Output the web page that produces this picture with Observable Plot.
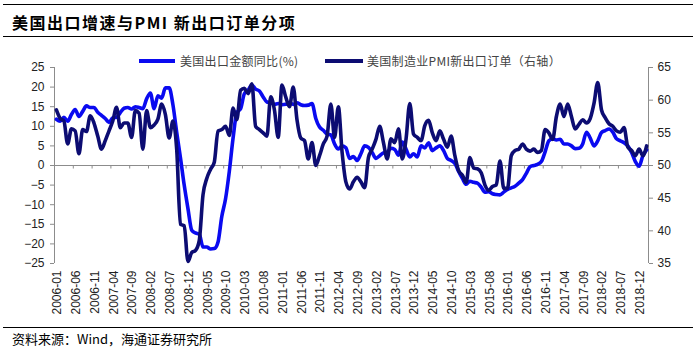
<!DOCTYPE html>
<html><head><meta charset="utf-8">
<script src="https://cdn.jsdelivr.net/npm/d3@7"></script>
<script src="https://cdn.jsdelivr.net/npm/@observablehq/plot@0.6"></script>
<style>
body{margin:0;background:#fff;}
#wrap{position:relative;width:700px;height:353px;overflow:hidden;background:#fff;font-family:"Noto Sans CJK SC",sans-serif;}
#chart{position:absolute;left:0;top:0;}
.hr{position:absolute;left:3px;width:690px;height:0;border-top:1.5px solid #000;}
#title{position:absolute;left:12px;top:12px;font-size:16px;font-weight:bold;letter-spacing:1.5px;color:#000;white-space:nowrap;line-height:20px;}
.leg{position:absolute;font-size:12px;color:#444;white-space:nowrap;line-height:14px;letter-spacing:0.3px;}
.sw{position:absolute;height:4px;}
#src{position:absolute;left:12px;top:331px;font-size:13px;color:#000;white-space:nowrap;line-height:16px;}
g[aria-label="x-labels"] text{letter-spacing:1px;}
</style></head>
<body>
<div id="wrap">
  <div id="chart"></div>
  <div class="hr" style="top:4px"></div>
  <div id="title">美国出口增速与PMI 新出口订单分项</div>
  <div class="hr" style="top:36px"></div>
  <div class="sw" style="left:139px;top:59px;width:36px;background:#0a0af0"></div>
  <div class="leg" style="left:180px;top:54px">美国出口金额同比(%)</div>
  <div class="sw" style="left:325px;top:59px;width:38px;background:#0c0c72"></div>
  <div class="leg" style="left:367px;top:54px">美国制造业PMI新出口订单（右轴）</div>
  <div class="hr" style="top:327px"></div>
  <div id="src">资料来源：Wind，海通证券研究所</div>
</div>
<script>
// series values, monthly from 2006-01
const exportYoY = [
 11.8, 11.3, 12.3, 11.3, 13.0, 14.3, 12.5, 13.8, 15.2, 14.8,
 14.8, 13.6, 12.8, 12.0, 11.0, 12.2, 12.3, 13.5, 14.6, 14.8,
 14.4, 15.0, 14.8, 14.5, 17.0, 18.5, 14.5, 17.8, 17.2, 19.8,
 19.8, 15.5, 8.5, 2.0, -5.0, -11.0, -16.5, -17.2, -17.5, -20.8,
 -20.8, -21.3, -21.2, -19.5, -13.0, -8.5, -1.5, 7.0, 13.5, 14.5,
 18.3, 19.2, 20.5, 19.5, 19.0, 17.5, 16.2, 16.0, 15.6, 15.8,
 15.5, 15.6, 16.0, 15.6, 16.0, 15.5, 15.3, 15.4, 15.8, 12.0,
 9.8, 9.0, 8.0, 7.8, 5.5, 4.2, 5.0, 4.5, 1.8, 2.3,
 1.3, 3.0, 5.0, 4.6, 3.3, 1.8, 2.5, 3.2, 3.4, 4.4,
 4.1, 2.6, 6.0, 4.2, 2.2, 3.0, 2.2, 5.0, 4.5, 5.8,
 3.8, 4.5, 5.0, 3.8, 1.8, 1.3, 0.5, -1.5, -3.3, -4.8,
 -4.0, -4.3, -4.5, -5.5, -6.8, -6.7, -7.2, -7.4, -7.5, -6.8,
 -6.1, -5.7, -5.3, -4.5, -3.6, -2.0, -0.3, 0.0, 0.3, 1.0,
 3.5, 6.3, 6.8, 6.5, 6.7, 5.5, 5.5, 5.0, 4.3, 4.4,
 5.5, 8.5, 7.0, 5.0, 6.3, 8.4, 8.9, 9.3, 8.5, 6.8,
 6.3, 5.8, 5.0, 3.3, 1.0, -0.2, 2.5, 4.0
];
const pmiExportOrders = [
 58.5, 57.2, 56.8, 53.3, 55.6, 55.3, 51.8, 55.5, 55.2, 57.6,
 56.5, 54.5, 52.5, 53.8, 55.3, 56.8, 58.9, 55.8, 56.5, 56.5,
 54.3, 58.4, 58.0, 52.5, 58.4, 55.8, 56.2, 57.1, 59.4, 57.8,
 54.2, 56.8, 52.5, 41.0, 40.8, 35.3, 36.7, 37.0, 38.5, 45.5,
 48.0, 49.4, 50.5, 55.3, 55.5, 56.0, 54.6, 58.8, 57.0, 61.5,
 61.8, 61.0, 62.5, 56.0, 55.5, 55.0, 54.5, 60.5, 58.5, 54.3,
 62.3, 60.5, 59.0, 62.0, 57.0, 54.2, 53.8, 51.0, 53.5, 50.0,
 51.5, 53.3, 54.5, 59.4, 54.3, 59.0, 52.0, 47.5, 46.4, 47.5,
 48.2, 47.5, 46.6, 51.2, 52.5, 54.0, 56.0, 53.5, 51.0, 54.1,
 53.5, 55.6, 51.0, 54.0, 59.5, 54.8, 54.3, 53.8, 56.1, 56.9,
 55.0, 53.8, 55.3, 54.0, 52.8, 54.5, 51.5, 49.2, 48.5, 47.4,
 51.2, 49.6, 49.5, 48.9, 47.0, 46.2, 46.8, 47.0, 50.7, 46.5,
 46.5, 51.5, 52.3, 52.5, 53.3, 52.5, 52.2, 52.5, 52.0, 52.3,
 55.5, 55.0, 54.0, 57.5, 59.4, 57.5, 59.4, 57.5, 55.6, 56.3,
 57.0, 56.5, 57.2, 59.5, 62.7, 58.5, 57.3, 56.4, 56.0, 55.3,
 55.1, 55.8, 52.8, 52.3, 51.5, 52.5, 51.5, 53.0
];
// tick labels
const xTickLabels = ['2006-01','2006-06','2006-11','2007-04','2007-09','2008-02','2008-07','2008-12','2009-05','2009-10','2010-03','2010-08','2011-01','2011-06','2011-11','2012-04','2012-09','2013-02','2013-07','2013-12','2014-05','2014-10','2015-03','2015-08','2016-01','2016-06','2016-11','2017-04','2017-09','2018-02','2018-07','2018-12'];
const leftTicks = [-25,-20,-15,-10,-5,0,5,10,15,20,25];
const rightTicks = [35,40,45,50,55,60,65];

// categories: months
const months = exportYoY.map((_, i) => {
  const y = 2006 + Math.floor(i / 12), mo = (i % 12) + 1;
  return y + '-' + String(mo).padStart(2, '0');
});
const table = months.map((m, i) => ({i, month: m, exp: exportYoY[i], pmi: pmiExportOrders[i]}));
// right axis (35..65) mapped onto the left scale (-25..25)
const toLeft = r => (r - 50) / 0.6;
const n = months.length;
const boundaries = d3.range(4.5, n - 1, 5);
const labelRows = xTickLabels.map(l => ({label: l, i: months.indexOf(l)}));

const font = "'Liberation Sans', Arial, sans-serif";
const chart = Plot.plot({
  width: 700, height: 353,
  marginTop: 67, marginBottom: 90, marginLeft: 54, marginRight: 52,
  style: {fontFamily: font, fontSize: "12px", background: "transparent", color: "#222"},
  x: {domain: [-0.5, n - 0.5], axis: null},
  y: {domain: [-25, 25], axis: null},
  marks: [
    Plot.ruleY([0], {stroke: "#8c8c8c", strokeWidth: 1}),
    Plot.ruleX(boundaries, {y1: 0, y2: -0.9, stroke: "#8c8c8c"}),
    Plot.ruleX([-0.5], {stroke: "#8c8c8c"}),
    Plot.ruleX([n - 0.5], {stroke: "#8c8c8c"}),
    Plot.axisY(leftTicks, {anchor: "left", label: null, tickSize: 4, tickPadding: 6, stroke: "#8c8c8c", fill: "#222", fontSize: 12}),
    Plot.axisY(rightTicks.map(toLeft), {anchor: "right", label: null, tickSize: 4, tickPadding: 5, stroke: "#8c8c8c", fill: "#222", fontSize: 12,
      tickFormat: d => String(Math.round(50 + 0.6 * d))}),
    Plot.text(labelRows, {x: "i", frameAnchor: "bottom", text: "label", rotate: -90, textAnchor: "end", lineAnchor: "middle",
      dy: 7, dx: 1, fontSize: 12, fill: "#222", ariaLabel: "x-labels"}),
    Plot.lineY(table, {x: "i", y: "exp", stroke: "#0a0af0", strokeWidth: 3.6, curve: "monotone-x", strokeLinejoin: "round"}),
    Plot.lineY(table, {x: "i", y: d => toLeft(d.pmi), stroke: "#0c0c72", strokeWidth: 3.6, curve: "monotone-x", strokeLinejoin: "round"})
  ]
});
document.getElementById("chart").appendChild(chart);
</script>
</body></html>
